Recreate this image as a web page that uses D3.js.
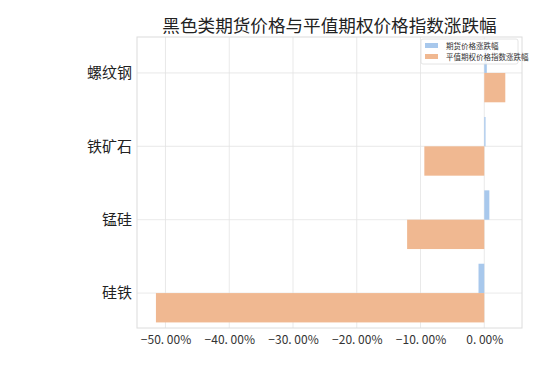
<!DOCTYPE html>
<html><head><meta charset="utf-8">
<script src="https://cdn.jsdelivr.net/npm/d3@7"></script>
<style>body{margin:0;background:#fff}</style>
</head><body>
<svg id="c" width="550" height="367"></svg>
<script>
const categories = ["硅铁", "锰硅", "铁矿石", "螺纹钢"];
const futuresChange = [-0.009, 0.008, 0.002, 0.004];
const optionIndexChange = [-0.515, -0.121, -0.094, 0.033];
const xTicks = [-0.5, -0.4, -0.3, -0.2, -0.1, 0.0];
const seriesNames = ["期货价格涨跌幅", "平值期权价格指数涨跌幅"];
const title = "黑色类期货价格与平值期权价格指数涨跌幅";

const font = "'Noto Sans CJK SC', 'DejaVu Sans', sans-serif";
const svg = d3.select("#c");
const L = 137, R = 522, T = 37, B = 328;
const x = d3.scaleLinear().domain([-0.5447, 0.0592]).range([L, R]);
const y = d3.scaleLinear().domain([-0.476, 3.49]).range([B, T]);
const blue = "#a8c8ec", orange = "#f0b891";

// grid
svg.append("g").selectAll("line").data(xTicks).join("line")
  .attr("x1", d => x(d)).attr("x2", d => x(d)).attr("y1", T).attr("y2", B)
  .attr("stroke", "#e3e3e3").attr("stroke-width", 0.8);
svg.append("g").selectAll("line").data(categories).join("line")
  .attr("x1", L).attr("x2", R).attr("y1", (d, i) => y(i)).attr("y2", (d, i) => y(i))
  .attr("stroke", "#e3e3e3").attr("stroke-width", 0.8);

// bars
const h = 0.4;
svg.append("g").selectAll("rect").data(futuresChange).join("rect")
  .attr("x", d => Math.min(x(0), x(d))).attr("width", d => Math.abs(x(d) - x(0)))
  .attr("y", (d, i) => y(i + h)).attr("height", (d, i) => y(i) - y(i + h))
  .attr("fill", blue);
svg.append("g").selectAll("rect").data(optionIndexChange).join("rect")
  .attr("x", d => Math.min(x(0), x(d))).attr("width", d => Math.abs(x(d) - x(0)))
  .attr("y", (d, i) => y(i)).attr("height", (d, i) => y(i - h) - y(i))
  .attr("fill", orange);

// frame
svg.append("rect").attr("x", L).attr("y", T).attr("width", R - L).attr("height", B - T)
  .attr("fill", "none").attr("stroke", "#dcdcdc").attr("stroke-width", 1);

// axes
const xAxis = d3.axisBottom(x).tickValues(xTicks).tickSize(0).tickPadding(5)
  .tickFormat(d => (d < 0 ? "\u2212" : "") + d3.format(".2f")(Math.abs(d) * 100).replace(".", ". ") + "%");
const gx = svg.append("g").attr("transform", `translate(0,${B})`).call(xAxis);
gx.select(".domain").remove();
gx.selectAll("text").attr("font-family", font).attr("font-size", 12).attr("fill", "#333").attr("dy", "0.95em");

const yAxis = d3.axisLeft(y).tickValues(d3.range(categories.length)).tickSize(0).tickPadding(5)
  .tickFormat(i => categories[i]);
const gy = svg.append("g").attr("transform", `translate(${L},0)`).call(yAxis);
gy.select(".domain").remove();
gy.selectAll("text").attr("font-family", font).attr("font-size", 15).attr("fill", "#222");

// title
svg.append("text").attr("x", (L + R) / 2).attr("y", 32).attr("text-anchor", "middle")
  .attr("font-family", font).attr("font-size", 17.6).attr("fill", "#222").text(title);

// legend
const lg = svg.append("g");
lg.append("rect").attr("x", 421).attr("y", 39).attr("width", 97).attr("height", 25).attr("rx", 2)
  .attr("fill", "white").attr("fill-opacity", 0.85).attr("stroke", "#dddddd").attr("stroke-width", 0.8);
[blue, orange].forEach((c, i) => {
  lg.append("rect").attr("x", 425).attr("y", 43 + i * 11).attr("width", 13).attr("height", 5).attr("fill", c);
  lg.append("text").attr("x", 446).attr("y", 46 + i * 11).attr("dy", "0.35em")
    .attr("font-family", font).attr("font-size", 7.5).attr("fill", "#333").text(seriesNames[i]);
});
</script>
</body></html>
